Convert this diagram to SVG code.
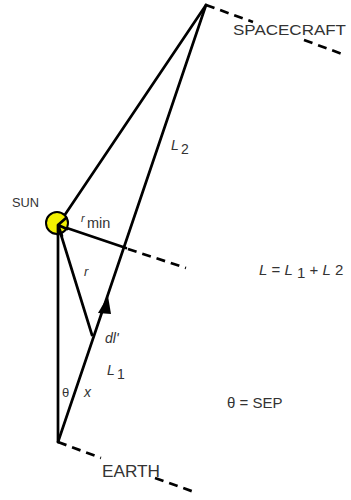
<svg xmlns="http://www.w3.org/2000/svg" width="351" height="500" viewBox="0 0 351 500">
<style>
.ln{stroke:#000;stroke-width:2.7;fill:none;stroke-linecap:round}
.ds{stroke:#000;stroke-width:2.7;fill:none;stroke-dasharray:9 6}
.t{font-family:"Liberation Sans",Arial,sans-serif;fill:#333}
.i{font-family:"Liberation Sans",Arial,sans-serif;font-style:italic;fill:#333}
</style>
<rect width="351" height="500" fill="#fff"/>
<g id="connectors">
<line class="ln" x1="58" y1="225" x2="206" y2="5"/>
<line class="ln" x1="58" y1="442" x2="206" y2="5"/>
<line class="ln" x1="58" y1="225" x2="58" y2="442"/>
<line class="ln" x1="58" y1="225" x2="92" y2="335"/>
<line class="ln" x1="58" y1="225" x2="126" y2="248"/>
<line class="ds" x1="128" y1="249" x2="186" y2="268"/>
<line class="ds" x1="206" y1="5" x2="253" y2="22"/>
<line class="ds" x1="304" y1="40" x2="345" y2="55"/>
<line class="ds" x1="58" y1="442" x2="101" y2="458"/>
<line class="ds" x1="155" y1="478" x2="197" y2="493"/>
<polygon points="108,296 98,313 111,314" fill="#000"/>
</g>
<g id="sun">
<circle cx="57" cy="223" r="11" fill="#f2f000" stroke="#000" stroke-width="2"/>
<path d="M58,225 L66,218 M58,225 L67,229 M58,225 L58,235 M58,225 L62,236" class="ln"/>
<text class="t" x="12" y="207" font-size="13.5" textLength="27" lengthAdjust="spacingAndGlyphs">SUN</text>
</g>
<g id="spacecraft">
<text class="t" x="233" y="35" font-size="15.5" textLength="113" lengthAdjust="spacingAndGlyphs">SPACECRAFT</text>
</g>
<g id="earth">
<text class="t" x="102" y="477" font-size="16" textLength="58" lengthAdjust="spacingAndGlyphs">EARTH</text>
</g>
<g id="labels">
<text class="i" x="81" y="222" font-size="11">r</text>
<text class="t" x="87" y="228" font-size="14.5">min</text>
<text class="i" x="84" y="276" font-size="13">r</text>
<text class="i" x="171" y="150" font-size="14">L</text>
<text class="t" x="181" y="154" font-size="14">2</text>
<text class="i" x="105" y="343" font-size="14">dl'</text>
<text class="i" x="107" y="375" font-size="14">L</text>
<text class="t" x="117" y="379" font-size="14">1</text>
<text class="t" x="62" y="397" font-size="13">θ</text>
<text class="i" x="84" y="397" font-size="14">x</text>
<text x="259" y="275" font-size="15" class="i">L<tspan class="t" font-style="normal"> = </tspan>L<tspan class="t" font-style="normal" dy="3"> 1 </tspan><tspan class="t" font-style="normal" dy="-3">+ </tspan>L<tspan class="t" font-style="normal"> 2</tspan></text>
<text class="t" x="227" y="408" font-size="15">θ = SEP</text>
</g>
</svg>
